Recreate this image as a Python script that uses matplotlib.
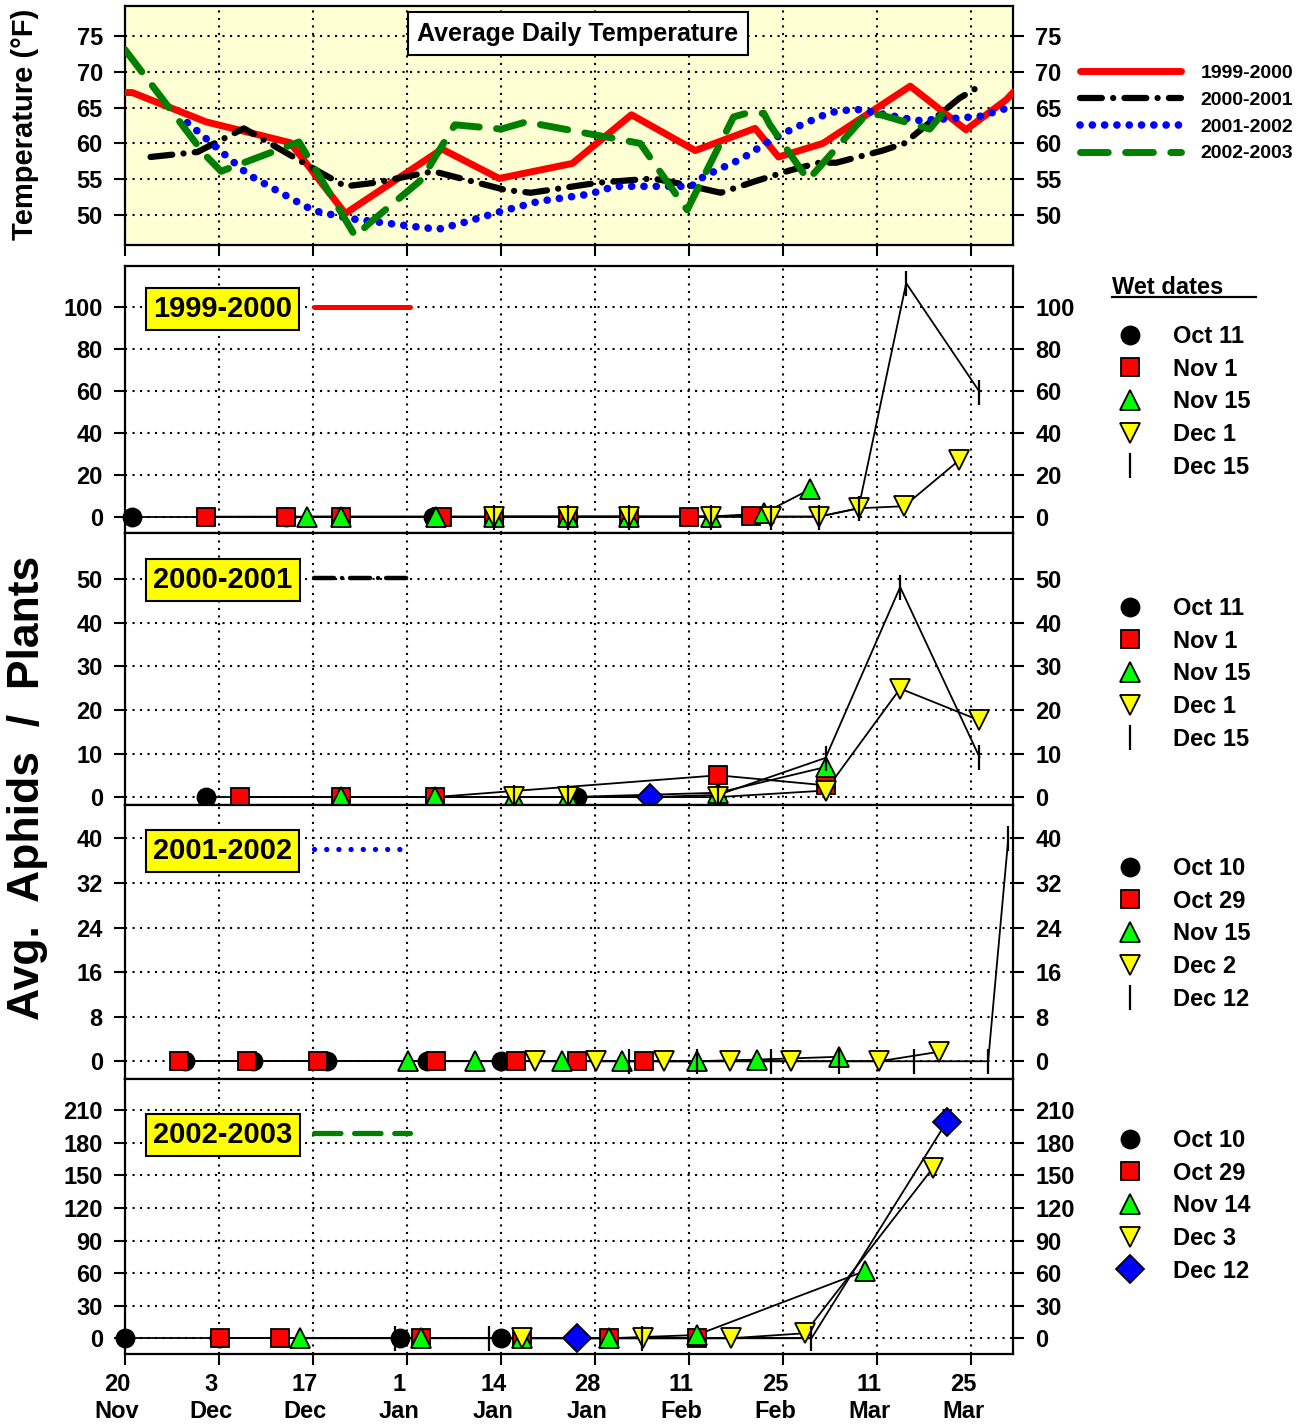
import matplotlib.pyplot as plt
import matplotlib.transforms as mtransforms
from matplotlib.lines import Line2D

plt.rcParams['font.family'] = ['Liberation Sans', 'DejaVu Sans']
plt.rcParams['font.weight'] = 'bold'

W, H = 1307, 1426


def fx(px):
    return px / W


def fy(py):
    return 1 - py / H


# x axis = days after Nov 20, ticks every two weeks
tick_days = [0, 14, 28, 42, 56, 70, 84, 98, 112, 126]
tick_labels = ['20\nNov', '3\nDec', '17\nDec', '1\nJan', '14\nJan', '28\nJan',
               '11\nFeb', '25\nFeb', '11\nMar', '25\nMar']

# average daily temperature (F)
t99_day = [0, 1.1, 12.1, 24.6, 32.8, 47.2, 55.7, 66.6, 75.4, 84.9, 93.8, 97.3,
           103.9, 116.9, 125.2, 131.2, 132.3]
t99_temp = [67.1, 67.1, 63.0, 60.1, 50.2, 59.2, 55.1, 57.2, 64.0, 59.0, 62.1, 58.1,
            60.0, 68.0, 61.9, 66.1, 67.2]
t00_day = [3.8, 10.8, 17.7, 28.4, 32.8, 37.2, 45.9, 56.6, 60.4, 70.4, 78.6, 83.0,
           88.7, 93.8, 98.9, 103.3, 105.9, 112.8, 116.0, 124.2, 126.7]
t00_temp = [58.1, 58.8, 62.1, 56.3, 54.0, 54.5, 56.1, 53.5, 53.1, 54.5, 55.1, 54.3,
            53.1, 54.7, 56.2, 57.3, 57.3, 59.0, 60.0, 66.3, 67.7]
t01_day = [9.3, 14.9, 18.4, 25.9, 28.1, 33.4, 42.8, 46.6, 50.3, 56.0, 61.6, 69.1,
           72.9, 79.2, 84.3, 86.2, 91.9, 95.7, 99.5, 104.9, 108.7, 112.2, 117.9,
           123.6, 127.4, 131.2]
t01_temp = [62.9, 58.4, 55.6, 51.7, 50.6, 49.5, 48.4, 48.0, 48.9, 50.5, 51.9, 52.9,
            54.0, 54.0, 54.0, 55.4, 57.9, 60.2, 62.1, 64.3, 64.8, 64.2, 63.2,
            63.5, 63.8, 64.9]
t02_day = [0, 11.8, 14.3, 25.9, 34.3, 36.2, 44.1, 49.1, 56.0, 59.7, 76.7, 80.5,
           83.7, 84.9, 90.6, 92.5, 95.1, 96.0, 101.7, 110.3, 112.5, 119.8, 121.8]
t02_temp = [73.1, 58.5, 56.1, 60.2, 47.0, 48.7, 54.9, 62.6, 62.0, 63.0, 60.0, 54.9,
            50.7, 53.0, 63.7, 64.2, 64.2, 62.6, 54.9, 64.0, 64.0, 62.0, 64.3]

# aphids per plant, 1999-2000
a99_oct11_day = [1.0, 24.0, 45.9, 55.0, 66.0, 75.1]
a99_oct11 = [0, 0, 0, 0, 0, 0]
a99_nov1_day = [12.1, 24.0, 32.2, 47.2, 55.0, 66.0, 75.1, 84.0, 93.2]
a99_nov1 = [0, 0, 0, 0, 0, 0, 0, 0, 0.5]
a99_nov15_day = [27.1, 32.2, 46.3, 55.0, 66.0, 75.1, 87.2, 95.1, 102.0]
a99_nov15 = [0, 0, 0, 0, 0, 0, 0, 1.6, 13.1]
a99_dec1_day = [55.0, 66.0, 75.1, 87.2, 96.2, 103.3, 109.2, 116.0, 124.2]
a99_dec1 = [0, 0, 0, 0, 0, 0, 4, 5, 27]
a99_dec15_day = [55.0, 66.0, 75.1, 87.2, 96.2, 103.3, 109.2, 116.3, 127.2]
a99_dec15 = [0, 0, 0, 0, 0, 0, 4, 111.5, 59.7]

# 2000-2001
a00_oct11_day = [12.1, 67.3]
a00_oct11 = [0, 0]
a00_nov1_day = [17.1, 32.2, 46.1, 88.3, 104.3]
a00_nov1 = [0, 0, 0, 5.0, 2.7]
a00_nov15_day = [32.2, 46.1, 57.9, 66.0, 88.3, 104.3]
a00_nov15 = [0, 0, 0, 0, 1.0, 6.9]
a00_dec1_day = [57.9, 66.0, 88.3, 104.3, 115.4, 127.2]
a00_dec1 = [0, 0, 0, 1.5, 24.9, 17.6]
a00_dec15_day = [57.9, 66.0, 78.1, 88.3, 104.3, 115.4, 127.2]
a00_dec15 = [0, 0, 0, 0.5, 9.0, 48.2, 9.2]
a00_other_day = [78.1]
a00_other = [0]

# 2001-2002
a01_oct10_day = [9.0, 19.0, 30.0, 45.0, 56.0]
a01_oct10 = [0, 0, 0, 0, 0]
a01_oct29_day = [8.0, 18.1, 28.7, 46.3, 58.2, 67.3, 77.2]
a01_oct29 = [0, 0, 0, 0, 0, 0, 0]
a01_nov15_day = [42.1, 52.1, 65.1, 74.0, 85.1, 94.1, 106.3]
a01_nov15 = [0, 0, 0, 0, 0, 0.3, 0.8]
a01_dec2_day = [61.0, 70.1, 80.2, 90.1, 99.2, 112.3, 121.2]
a01_dec2 = [0, 0, 0, 0, 0, 0, 1.7]
a01_dec12_day = [75.1, 85.1, 96.2, 106.3, 117.4, 128.5, 131.5]
a01_dec12 = [0, 0, 0, 0, 0, 0, 40]

# 2002-2003
a02_oct10_day = [0.0, 14.0, 40.9, 56.0]
a02_oct10 = [0, 0, 0, 0]
a02_oct29_day = [14.1, 23.1, 44.1, 59.1, 72.1, 85.1]
a02_oct29 = [0, 0, 0, 0, 0, 0]
a02_nov14_day = [26.1, 44.1, 59.1, 72.1, 85.1, 110.2]
a02_nov14 = [0, 0, 0, 0, 3, 62]
a02_dec3_day = [59.1, 77.1, 90.2, 101.2, 120.3]
a02_dec3 = [0, 0, 0, 4.6, 157]
a02_dec12_day = [67.3, 102.2, 122.3]
a02_dec12 = [0, 0, 199]
a02_bar_day = [40.2, 54.2, 77.0, 102.2]
a02_bar = [0, 0, 0, 0]

seasons = ['1999-2000', '2000-2001', '2001-2002', '2002-2003']

temp_style = {
    '1999-2000': dict(color='#FF0000', lw=5, solid_capstyle='round'),
    '2000-2001': dict(color='black', lw=4.5, dashes=(3.5, 1.8, 0.01, 1.8),
                      dash_capstyle='round'),
    '2001-2002': dict(color='#0000FF', lw=5.5, dashes=(0.01, 1.6),
                      dash_capstyle='round'),
    '2002-2003': dict(color='#008000', lw=5, dashes=(4, 2.5), dash_capstyle='round'),
}
sample_style = {
    '1999-2000': dict(color='#FF0000', lw=3.6, solid_capstyle='round'),
    '2000-2001': dict(color='black', lw=3.2, dashes=(4.5, 1.8, 0.01, 1.8),
                      dash_capstyle='round'),
    '2001-2002': dict(color='#0000FF', lw=3.8, dashes=(0.01, 2.3),
                      dash_capstyle='round'),
    '2002-2003': dict(color='#008000', lw=3.8, dashes=(5, 2.6), dash_capstyle='round'),
}

fig = plt.figure(figsize=(W / 100, H / 100), dpi=100)


def setup(ax, yticks, ylim):
    ax.set_xlim(0, 132.2)
    ax.set_ylim(*ylim)
    ax.set_xticks(tick_days)
    ax.set_yticks(yticks)
    ax.tick_params(axis='both', direction='out', length=8, width=1.5,
                   labelsize=17, pad=8)
    ax.tick_params(axis='y', left=True, right=True, labelleft=True, labelright=True)
    ax.tick_params(axis='x', labelbottom=False)
    ax.grid(True, color='black', lw=1.5, ls=(0, (1, 2.6)))
    ax.set_axisbelow(True)
    for s in ax.spines.values():
        s.set_linewidth(1.6)


# ---- temperature panel ----
ax0 = fig.add_axes([fx(125), fy(245), fx(1013) - fx(125), (245 - 6) / H])
ax0.set_facecolor('#FFFFD4')
setup(ax0, [50, 55, 60, 65, 70, 75], (45.8, 79.2))
for name, d, t in zip(seasons, [t99_day, t00_day, t01_day, t02_day],
                      [t99_temp, t00_temp, t01_temp, t02_temp]):
    ax0.plot(d, t, label=name, zorder=3, **temp_style[name])
ax0.text(0.51, 0.883, 'Average Daily Temperature', transform=ax0.transAxes,
         ha='center', va='center', fontsize=18, zorder=5,
         bbox=dict(boxstyle='square,pad=0.38', fc='white', ec='black', lw=1.5))
ax0.legend(loc='upper left', bbox_to_anchor=(fx(1080), fy(64)),
           bbox_transform=fig.transFigure, frameon=False, fontsize=14,
           handlelength=5.2, handletextpad=1.0, labelspacing=0.48,
           borderpad=0, borderaxespad=0)
fig.text(fx(25), fy(124), 'Temperature (°F)', rotation=90, fontsize=21,
         ha='center', va='center')

# ---- aphid panels ----
panels = [
    dict(name='1999-2000', box=(266, 533), yticks=[0, 20, 40, 60, 80, 100],
         ylim=(-7.8, 119.7), label_y=309, leg_y=325,
         series=[(a99_oct11_day, a99_oct11, 'o', 'black', 13, 'Oct 11', None),
                 (a99_nov1_day, a99_nov1, 's', '#FF0000', 13, 'Nov 1', None),
                 (a99_nov15_day, a99_nov15, '^', '#00FF00', 14, 'Nov 15', None),
                 (a99_dec1_day, a99_dec1, 'v', '#FFFF00', 14, 'Dec 1', None),
                 (a99_dec15_day, a99_dec15, '|', 'black', 18, 'Dec 15', None)]),
    dict(name='2000-2001', box=(533, 804.5), yticks=[0, 10, 20, 30, 40, 50],
         ylim=(-1.7, 60.6), label_y=580, leg_y=597,
         series=[(a00_oct11_day, a00_oct11, 'o', 'black', 13, 'Oct 11', None),
                 (a00_nov1_day, a00_nov1, 's', '#FF0000', 13, 'Nov 1', None),
                 (a00_nov15_day, a00_nov15, '^', '#00FF00', 14, 'Nov 15', None),
                 (a00_dec1_day, a00_dec1, 'v', '#FFFF00', 14, 'Dec 1', None),
                 (a00_dec15_day, a00_dec15, '|', 'black', 18, 'Dec 15', None),
                 (a00_other_day, a00_other, 'D', '#0000FF', 13, None, None)]),
    dict(name='2001-2002', box=(804.5, 1078.5), yticks=[0, 8, 16, 24, 32, 40],
         ylim=(-3.1, 46.1), label_y=851, leg_y=857,
         series=[(a01_oct10_day, a01_oct10, 'o', 'black', 13, 'Oct 10', None),
                 (a01_oct29_day, a01_oct29, 's', '#FF0000', 13, 'Oct 29', None),
                 (a01_nov15_day, a01_nov15, '^', '#00FF00', 14, 'Nov 15', None),
                 (a01_dec2_day, a01_dec2, 'v', '#FFFF00', 14, 'Dec 2', None),
                 (a01_dec12_day, a01_dec12, '|', 'black', 18, 'Dec 12', None)]),
    dict(name='2002-2003', box=(1078.5, 1354), yticks=[0, 30, 60, 90, 120, 150, 180, 210],
         ylim=(-14.5, 239.2), label_y=1135, leg_y=1129,
         series=[(a02_oct10_day, a02_oct10, 'o', 'black', 13, 'Oct 10', None),
                 (a02_oct29_day, a02_oct29, 's', '#FF0000', 13, 'Oct 29', None),
                 (a02_nov14_day, a02_nov14, '^', '#00FF00', 14, 'Nov 14', None),
                 (a02_dec3_day, a02_dec3, 'v', '#FFFF00', 14, 'Dec 3', None),
                 (a02_bar_day, a02_bar, '|', 'black', 18, None, None),
                 (a02_dec12_day, a02_dec12, 'D', '#0000FF', 14, 'Dec 12', [0, 2])]),
]

axes = []
for p in panels:
    top, bot = p['box']
    ax = fig.add_axes([fx(125), fy(bot), fx(1013) - fx(125), (bot - top) / H])
    setup(ax, p['yticks'], p['ylim'])
    handles = []
    for days, vals, mk, fc, ms, lab, every in p['series']:
        ax.plot(days, vals, color='black', lw=1.3, zorder=3)
        h, = ax.plot(days, vals, ls='none', marker=mk, mfc=fc, mec='black', ms=ms,
                     mew=1.6 if mk == '|' else 1.3, markevery=every, zorder=4,
                     clip_on=False)
        if lab:
            handles.append((h, lab))
    wet = ax.legend([h for h, _ in handles], [l for _, l in handles],
                    loc='upper left', bbox_to_anchor=(fx(1116), fy(p['leg_y'])),
                    bbox_transform=fig.transFigure, frameon=False, fontsize=17,
                    handlelength=1.2, handletextpad=1.2, labelspacing=0.41,
                    borderpad=0, borderaxespad=0, markerscale=1.0)
    ax.add_artist(wet)
    # season tag with a sample of its temperature line
    tag = ax.legend([Line2D([], [], **sample_style[p['name']])], [p['name']],
                    loc='center left', bbox_to_anchor=(fx(153), fy(p['label_y'])),
                    bbox_transform=fig.transFigure, frameon=False, fontsize=21,
                    markerfirst=False, handlelength=3.3, handletextpad=0.75,
                    borderpad=0, borderaxespad=0)
    tag.get_texts()[0].set_bbox(dict(boxstyle='square,pad=0.25', fc='#FFFF00',
                                     ec='black', lw=1.5))
    axes.append(ax)

ax_last = axes[-1]
ax_last.tick_params(axis='x', labelbottom=True, pad=6)
ax_last.set_xticklabels(tick_labels)
shift = mtransforms.ScaledTranslation(-8 / 100, 0, fig.dpi_scale_trans)
for lab in ax_last.get_xticklabels():
    lab.set_transform(lab.get_transform() + shift)

fig.text(fx(1112), fy(287), 'Wet dates', fontsize=17, ha='left', va='center')
fig.add_artist(Line2D([fx(1112), fx(1256)], [fy(297), fy(297)],
                      transform=fig.transFigure, color='black', lw=1.6))
fig.text(fx(28), fy(788), 'Avg.  Aphids  /  Plants', rotation=90, fontsize=32,
         ha='center', va='center')

fig.savefig('out.png', dpi=100)
